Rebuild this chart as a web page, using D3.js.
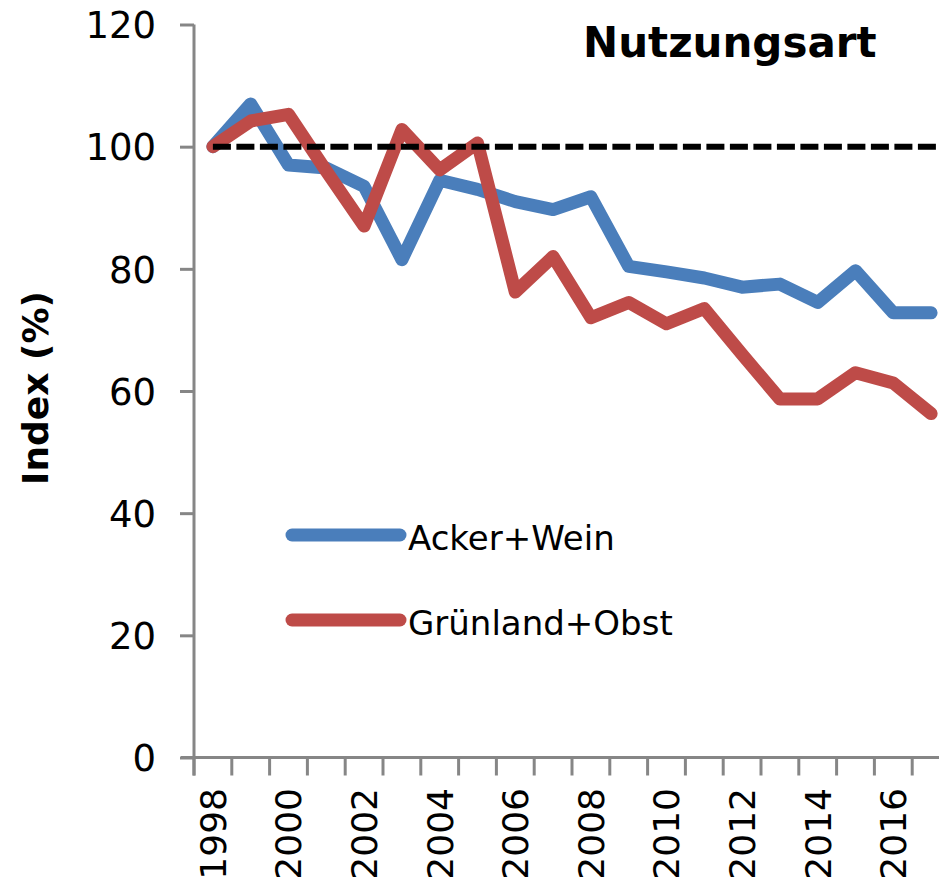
<!DOCTYPE html>
<html>
<head>
<meta charset="utf-8">
<script src="https://cdn.jsdelivr.net/npm/d3@7"></script>
<style>
  body { margin: 0; background: #fff; }
  text { font-family: "DejaVu Sans", sans-serif; fill: #000; }
</style>
</head>
<body>
<div id="chart"></div>
<script>
const years     = [1998, 1999, 2000, 2001, 2002, 2003, 2004, 2005, 2006, 2007,
                   2008, 2009, 2010, 2011, 2012, 2013, 2014, 2015, 2016, 2017];
const ackerWein = [100, 107, 97, 96.5, 93.5, 81.5, 94.5, 93, 91, 89.7,
                   91.8, 80.4, 79.5, 78.5, 77, 77.5, 74.5, 79.7, 72.8, 72.8];
const gruenland = [100, 104.2, 105.3, 96, 87, 102.8, 96.2, 100.6, 76.2, 82,
                   72, 74.5, 71, 73.5, 66, 58.7, 58.7, 63, 61.3, 56.3];
const yTicks    = [0, 20, 40, 60, 80, 100, 120];
const seriesNames  = ['Acker+Wein', 'Grünland+Obst'];
const seriesColors = ['#4a7ebb', '#be4b48'];
const reference = 100;

const canvas_w = 939;
const canvas_h = 885;
const plot_l = 194, plot_r = 950, plot_t = 24.5, plot_b = 757.5;
const axisColour = '#868686';

let svg = d3.select('#chart')
            .append('svg')
            .attr('width', canvas_w)
            .attr('height', canvas_h);

let x = d3.scaleBand()
          .domain(years)
          .range([plot_l, plot_r]);

let y = d3.scaleLinear()
          .domain([0, 120])
          .range([plot_b, plot_t]);

// y axis
let yAxis = svg.append('g')
               .attr('transform', `translate(${plot_l},0)`)
               .call(d3.axisLeft(y).tickValues(yTicks).tickSize(14).tickSizeOuter(0));
yAxis.select('.domain').remove();
yAxis.selectAll('line').attr('stroke', axisColour).attr('stroke-width', 3);
yAxis.selectAll('text')
     .attr('x', -38)
     .attr('dy', '0.36em')
     .style('font-size', '37px')
     .style('font-family', '"DejaVu Sans", sans-serif')
     .attr('fill', '#000');
svg.append('line')
   .attr('x1', plot_l).attr('x2', plot_l)
   .attr('y1', plot_t).attr('y2', plot_b + 18)
   .attr('stroke', axisColour).attr('stroke-width', 3);

// x axis
svg.append('line')
   .attr('x1', plot_l - 13).attr('x2', plot_r)
   .attr('y1', plot_b).attr('y2', plot_b)
   .attr('stroke', axisColour).attr('stroke-width', 3);
svg.append('g')
   .selectAll('line')
   .data(years.concat([null]))
   .enter()
   .append('line')
   .attr('x1', (d, i) => plot_l + i * x.step())
   .attr('x2', (d, i) => plot_l + i * x.step())
   .attr('y1', plot_b)
   .attr('y2', plot_b + 18)
   .attr('stroke', axisColour)
   .attr('stroke-width', 3);
svg.append('g')
   .selectAll('text')
   .data(years.filter(d => d % 2 === 0))
   .enter()
   .append('text')
   .attr('transform', d => `translate(${x(d) + x.bandwidth() / 2},788) rotate(-90)`)
   .attr('text-anchor', 'end')
   .attr('dy', '0.36em')
   .style('font-size', '36px')
   .text(d => d);

// lines
let line = d3.line()
             .x((d, i) => x(years[i]) + x.bandwidth() / 2)
             .y(d => y(d));

[ackerWein, gruenland].forEach(function (values, k) {
    svg.append('path')
       .datum(values)
       .attr('d', line)
       .attr('fill', 'none')
       .attr('stroke', seriesColors[k])
       .attr('stroke-width', 13)
       .attr('stroke-linejoin', 'round')
       .attr('stroke-linecap', 'round');
});

// reference line at 100
svg.append('line')
   .attr('x1', x(years[0]) + x.bandwidth() / 2)
   .attr('x2', canvas_w)
   .attr('y1', y(reference))
   .attr('y2', y(reference))
   .attr('stroke', '#000')
   .attr('stroke-width', 6)
   .attr('stroke-dasharray', '18,5.5');

// legend
seriesNames.forEach(function (name, k) {
    let ly = 535 + k * 85;
    svg.append('line')
       .attr('x1', 292).attr('x2', 400)
       .attr('y1', ly).attr('y2', ly)
       .attr('stroke', seriesColors[k])
       .attr('stroke-width', 13)
       .attr('stroke-linecap', 'round');
    svg.append('text')
       .attr('x', 408)
       .attr('y', ly + 15)
       .style('font-size', '34px')
       .text(name);
});

// title
svg.append('text')
   .attr('x', 583)
   .attr('y', 57)
   .style('font-size', '42px')
   .style('font-weight', 'bold')
   .text('Nutzungsart');

// y axis label
svg.append('text')
   .attr('transform', 'translate(48,388) rotate(-90)')
   .attr('text-anchor', 'middle')
   .style('font-size', '36px')
   .style('font-weight', 'bold')
   .text('Index (%)');
</script>
</body>
</html>
